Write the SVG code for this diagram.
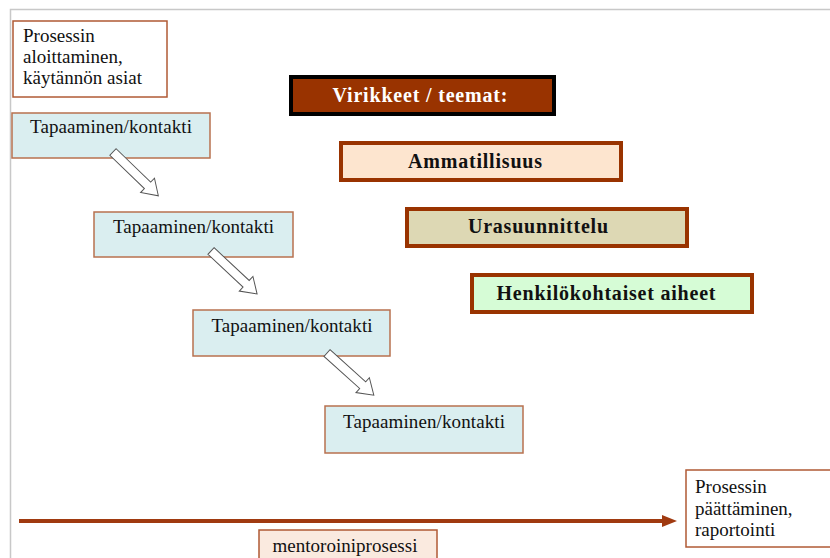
<svg xmlns="http://www.w3.org/2000/svg" width="830" height="558" viewBox="0 0 830 558">
<defs>
<style>
.t{font-family:"Liberation Serif","Times New Roman",serif;font-size:19px;fill:#111}
.b{font-family:"Liberation Serif","Times New Roman",serif;font-size:20px;font-weight:bold;fill:#111;text-anchor:middle}
.meet rect{fill:#daeef0;stroke:#b8714f;stroke-width:1.5}
.meet text{text-anchor:middle}
.note{fill:#fff;stroke:#b05a35;stroke-width:1.5}
.theme{stroke:#993300;stroke-width:4}
.harrow{fill:#fff;stroke:#555;stroke-width:1}
</style>
<polygon id="ha" points="0,-4.5 48,-4.5 48,-10 63,0 48,10 48,4.5 0,4.5"/>
</defs>
<rect width="830" height="558" fill="#fff"/>
<path d="M10.5 558 V9.5 H830" fill="none" stroke="#c8c8c8" stroke-width="1.5"/>

<g id="start">
<rect class="note" x="13" y="21" width="154" height="76"/>
<text class="t" x="23" y="42">Prosessin</text>
<text class="t" x="23" y="63">aloittaminen,</text>
<text class="t" x="23" y="84" textLength="119">käytännön asiat</text>
</g>

<g id="meet1" class="meet">
<rect x="12" y="113" width="198" height="45"/>
<text class="t" x="111" y="133" textLength="162">Tapaaminen/kontakti</text>
</g>
<g id="meet2" class="meet">
<rect x="94" y="212" width="199" height="45"/>
<text class="t" x="193.5" y="233" textLength="161">Tapaaminen/kontakti</text>
</g>
<g id="meet3" class="meet">
<rect x="193" y="310" width="197" height="46"/>
<text class="t" x="292" y="332" textLength="161">Tapaaminen/kontakti</text>
</g>
<g id="meet4" class="meet">
<rect x="325" y="406" width="198" height="47"/>
<text class="t" x="424" y="428" textLength="162">Tapaaminen/kontakti</text>
</g>

<g id="title">
<rect x="291" y="77" width="263" height="37" fill="#993300" stroke="#000" stroke-width="4"/>
<text class="b" x="420" y="102" style="fill:#fff" textLength="175">Virikkeet / teemat:</text>
</g>
<g id="ammatillisuus">
<rect class="theme" x="341" y="143" width="280" height="37" fill="#fde5cf"/>
<text class="b" x="475" y="168" textLength="134">Ammatillisuus</text>
</g>
<g id="urasuunnittelu">
<rect class="theme" x="407" y="209" width="280" height="37" fill="#ddd8b4"/>
<text class="b" x="538" y="233" textLength="140">Urasuunnittelu</text>
</g>
<g id="henkilokohtaiset">
<rect class="theme" x="472" y="275" width="280" height="37" fill="#d6fcd6"/>
<text class="b" x="606" y="300" textLength="219">Henkilökohtaiset aiheet</text>
</g>

<g id="end">
<rect class="note" x="686" y="470" width="150" height="77"/>
<text class="t" x="695" y="493">Prosessin</text>
<text class="t" x="695" y="515">päättäminen,</text>
<text class="t" x="695" y="536">raportointi</text>
</g>

<g id="mentoring">
<rect x="259" y="530" width="178" height="34" fill="#faeadf" stroke="#b05a35" stroke-width="1.5"/>
<text class="t" x="345" y="552" text-anchor="middle" textLength="145">mentoroiniprosessi</text>
</g>

<g id="connectors">
<use href="#ha" class="harrow" transform="translate(113,152) rotate(44)"/>
<use href="#ha" class="harrow" transform="translate(211,251) rotate(43)"/>
<use href="#ha" class="harrow" transform="translate(327,353) rotate(42)"/>
<line x1="19" y1="521" x2="664" y2="521" stroke="#a03a10" stroke-width="4"/>
<polygon points="662,515 677,521 662,527" fill="#a03a10"/>
</g>
</svg>
